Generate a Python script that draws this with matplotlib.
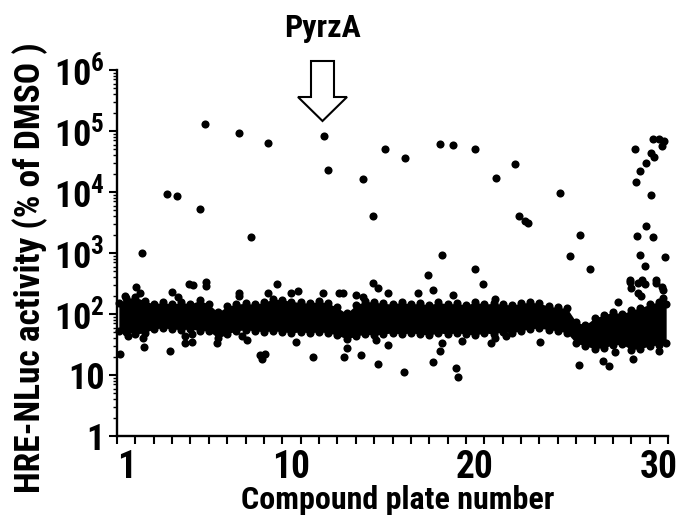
import matplotlib
matplotlib.use('Agg')
import matplotlib.pyplot as plt
from matplotlib.patches import Polygon
from matplotlib.ticker import FixedLocator, FixedFormatter, NullFormatter, LogLocator

plt.rcParams['font.family'] = ['Roboto Condensed', 'Liberation Sans', 'DejaVu Sans']
plt.rcParams['font.weight'] = 'black'
plt.rcParams['mathtext.fontset'] = 'custom'
plt.rcParams['mathtext.rm'] = 'Roboto Condensed:black'
plt.rcParams['mathtext.bf'] = 'Roboto Condensed:black'
plt.rcParams['mathtext.it'] = 'Roboto Condensed:black'

# ---------------- data ----------------
# strong hits / far outliers: plate position, activity (% of DMSO)
hit_x = [1.84, 3.22, 3.75, 5.0, 5.31, 7.16, 7.81, 8.74, 11.75, 11.97, 13.87, 14.42,
         15.09, 16.18, 18.08, 18.79, 20.0, 22.18, 21.11, 24.6, 22.37, 22.69, 22.86,
         25.72, 25.14, 26.23, 18.21, 19.99, 17.41,
         28.7, 29.7, 30.02, 30.3, 30.2, 29.57, 29.75, 29.3, 29.0, 28.74, 29.6, 29.28,
         28.8, 29.7, 28.95, 30.31, 29.26, 28.43, 29.06, 29.84]
hit_y = [1010, 9100, 8700, 5250, 129000, 93000, 1860, 64600, 83000, 22900, 16200, 4000,
         50000, 36300, 61700, 58900, 51300, 28800, 17000, 9800, 4070, 3310, 3090,
         2000, 890, 540, 910, 550, 430,
         50000, 74000, 74000, 69000, 56000, 43600, 37200, 30200, 21900, 14500, 8900, 2800,
         1900, 1820, 910, 870, 620, 360, 360, 360]

# points scattered just above / below the main band
near_x = [1.53, 0.94, 1.75, 3.51, 3.84, 4.42, 4.62, 5.33, 5.33, 7.16, 7.16, 8.74, 9.19,
          10.0, 10.37, 11.73, 12.6, 12.82, 13.51, 13.91, 14.45, 14.69, 15.24, 20.41,
          17.72, 16.9, 18.78, 21.08, 28.43, 28.88, 29.24, 28.46, 28.84, 29.02, 29.84,
          30.15, 30.24, 27.79, 30.24,
          0.66, 1.12, 1.93, 1.99, 3.38, 4.2, 4.2, 4.58, 4.58, 5.93, 7.29, 7.6, 8.38, 8.56,
          8.28, 10.23, 11.19, 12.86, 13.0, 13.77, 14.6, 14.69, 15.24, 16.14, 17.72, 18.08,
          18.17, 18.95, 19.08, 19.3, 20.86, 21.08, 21.68, 23.53, 25.65, 26.97, 27.3, 27.64,
          28.57, 30.02]
near_y = [275, 200, 220, 230, 190, 310, 295, 330, 290, 225, 200, 220, 310,
          220, 235, 220, 220, 220, 205, 190, 325, 270, 220, 310,
          250, 225, 205, 175, 340, 325, 315, 265, 220, 200, 325,
          280, 245, 160, 180,
          22, 43, 40, 29, 25, 33, 44, 47, 35, 33, 44, 37, 18, 22,
          21, 35, 19.5, 20, 28, 21, 37, 15, 31, 11, 16.6, 25,
          33, 12.9, 9.3, 36, 33, 40, 44, 35, 14.5, 17, 14, 23.4,
          18.6, 25]

# the dense band of inactive compounds: upper and lower edge along the plates
band_x = [0.6, 1.0, 1.5, 2.0, 2.5, 3.0, 3.5, 4.0, 4.5, 5.0, 5.5, 6.0, 6.5, 7.0, 7.5,
          8.0, 8.5, 9.0, 9.5, 10.0, 10.5, 11.0, 11.5, 12.0, 12.5, 13.0, 13.5, 14.0,
          14.5, 15.0, 15.5, 16.0, 16.5, 17.0, 17.5, 18.0, 18.5, 19.0, 19.5, 20.0, 20.5,
          21.0, 21.5, 22.0, 22.5, 23.0, 23.5, 24.0, 24.5, 25.0, 25.5, 26.0, 26.5, 27.0,
          27.5, 28.0, 28.5, 29.0, 29.5, 30.0, 30.4]
band_hi = [150, 180, 188, 166, 145, 156, 144, 156, 145, 168, 145, 106, 134, 145, 150,
           144, 156, 175, 172, 160, 155, 150, 162, 150, 128, 102, 140, 162,
           156, 150, 145, 156, 145, 150, 140, 156, 145, 150, 140, 156, 145,
           150, 145, 140, 150, 156, 150, 134, 128, 124, 74, 66, 86, 96,
           108, 100, 116, 126, 145, 158, 145]
band_lo = [53, 51, 47, 49, 57, 59, 57, 55, 57, 53, 53, 40, 47, 53, 55,
           53, 51, 53, 51, 49, 51, 49, 51, 49, 45, 39, 43, 47,
           45, 47, 49, 47, 49, 47, 45, 49, 47, 49, 47, 45, 49,
           47, 51, 49, 53, 57, 59, 55, 53, 49, 33, 30, 27, 28,
           31, 32, 26, 27, 30, 31, 33]

y_ticks = [1, 10, 100, 1000, 1e4, 1e5, 1e6]
y_tick_labels = ['1', '10', r'$10^{2}$', r'$10^{3}$', r'$10^{4}$', r'$10^{5}$', r'$10^{6}$']
x_label_pos = [1, 10, 20, 30]
x_tick_labels = ['1', '10', '20', '30']

# ---------------- figure ----------------
W, H = 680, 517
fig = plt.figure(figsize=(W / 100, H / 100), dpi=100)
ax = fig.add_axes([117 / W, 81 / H, 551 / W, 366 / H])
ax.set_yscale('log')
ax.set_xlim(0.5, 30.5)
ax.set_ylim(1, 1e6)

ms = 34
ax.fill_between(band_x, band_lo, band_hi, color='black', lw=0, zorder=2)
ax.scatter(band_x + band_x, band_lo + band_hi, s=ms, c='black', lw=0, zorder=3, clip_on=False)
ax.scatter(near_x, near_y, s=ms, c='black', lw=0, zorder=3, clip_on=False)
ax.scatter(hit_x, hit_y, s=ms, c='black', lw=0, zorder=3, clip_on=False)

for s in ['top', 'right']:
    ax.spines[s].set_visible(False)
for s in ['left', 'bottom']:
    ax.spines[s].set_linewidth(1.7)

# x ticks: one tick per plate boundary, labels at plate centres
ax.xaxis.set_major_locator(FixedLocator([i + 0.5 for i in range(0, 31)]))
ax.xaxis.set_major_formatter(NullFormatter())
ax.xaxis.set_minor_locator(FixedLocator(x_label_pos))
ax.xaxis.set_minor_formatter(FixedFormatter(x_tick_labels))
ax.tick_params(axis='x', which='major', length=6, width=1.5, direction='out')
ax.tick_params(axis='x', which='minor', length=0, labelsize=27, pad=9)

ax.yaxis.set_major_locator(FixedLocator(y_ticks))
ax.yaxis.set_major_formatter(FixedFormatter(y_tick_labels))
ax.yaxis.set_minor_locator(LogLocator(base=10, subs=[2, 3, 4, 5, 6, 7, 8, 9], numticks=20))
ax.yaxis.set_minor_formatter(NullFormatter())
ax.tick_params(axis='y', which='major', length=6, width=1.5, direction='out', labelsize=26, pad=3)
ax.tick_params(axis='y', which='minor', length=3, width=1.0, direction='out')
for lab in ax.get_xticklabels(minor=True) + ax.get_yticklabels():
    lab.set_fontweight('black')

fig.text(398 / W, 1 - 509 / H, 'Compound plate number', ha='center', va='baseline',
         fontsize=23, fontweight='black')
fig.text(30 / W, 1 - 268 / H, 'HRE-NLuc activity (% of DMSO )', ha='center', va='center',
         rotation=90, fontsize=25.5, fontweight='black')
fig.text(323 / W, 1 - 37 / H, 'PyrzA', ha='center', va='baseline', fontsize=23,
         fontweight='black')

# outlined arrow pointing at PyrzA
arrow_px = [(311, 61), (334, 61), (334, 97), (347, 97), (322.5, 121), (298, 97), (311, 97)]
arrow = Polygon([(x / W, 1 - y / H) for x, y in arrow_px], closed=True,
                transform=fig.transFigure, facecolor='white', edgecolor='black', lw=1.5)
fig.patches.append(arrow)

fig.savefig('out.png', dpi=100)
